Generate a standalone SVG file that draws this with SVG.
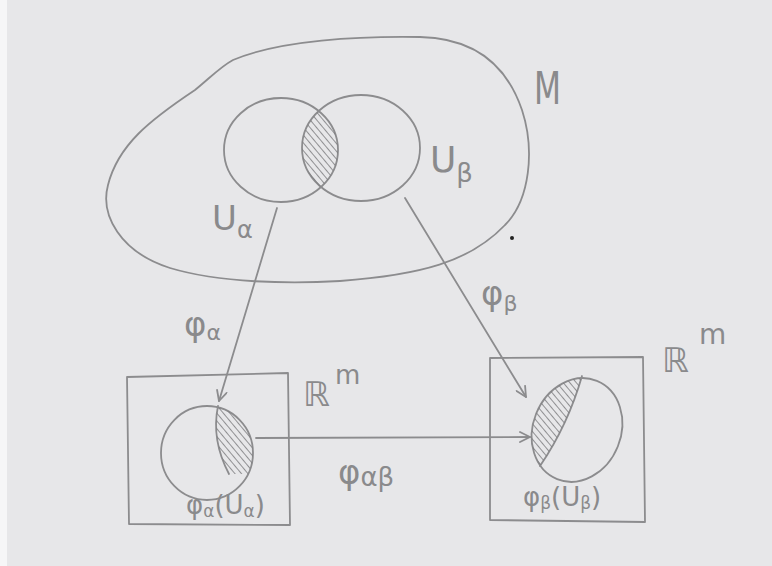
<svg xmlns="http://www.w3.org/2000/svg" width="772" height="566" viewBox="0 0 772 566">
  <style>
    .ink { fill: none; stroke: #8c8c8e; stroke-width: 1.8; stroke-linecap: round; stroke-linejoin: round; }
    .hatch { stroke: #7a7a7c; stroke-width: 1.6; }
    .lbl { font-family: "DejaVu Sans", "Liberation Sans", sans-serif; fill: #8a8a8c; font-weight: normal; }
  </style>
  <defs>
    <marker id="vhead" viewBox="0 0 12 12" refX="11" refY="6" markerWidth="12" markerHeight="12" markerUnits="userSpaceOnUse" orient="auto">
      <path d="M1,1 L11,6 L1,11" fill="none" stroke="#8c8c8e" stroke-width="1.8" stroke-linecap="round" stroke-linejoin="round"/>
    </marker>
    <pattern id="lines" width="5" height="5" patternUnits="userSpaceOnUse" patternTransform="rotate(-40)">
      <line x1="0" y1="0" x2="0" y2="5" class="hatch"/>
    </pattern>
    <clipPath id="clipUa"><ellipse cx="281" cy="150" rx="57" ry="52"/></clipPath>
    <clipPath id="clipUb"><ellipse cx="361" cy="148" rx="59" ry="53"/></clipPath>
    <clipPath id="clipLeftImg"><ellipse cx="207" cy="453" rx="46" ry="47"/></clipPath>
    <clipPath id="clipLeftSide"><path d="M218,406 Q211,440 229,474 L272,474 L272,400 Z"/></clipPath>
    <clipPath id="clipRightImg"><ellipse cx="577" cy="430" rx="44" ry="53" transform="rotate(22 577 430)"/></clipPath>
    <clipPath id="clipRightSide"><path d="M582,376 Q568,425 540,466 L515,466 L515,372 Z"/></clipPath>
  </defs>

  <!-- paper -->
  <rect x="0" y="0" width="772" height="566" fill="#e7e7e9"/>
  <rect x="0" y="0" width="7" height="566" fill="#f6f6f7"/>

  <!-- manifold M with the two chart domains -->
  <g id="manifold">
    <path class="ink" d="M233,60 C280,40 360,36 420,37 C470,38 505,60 522,110 C535,150 530,200 505,225 C470,262 420,275 340,281 C290,284 220,283 170,268 C120,252 100,215 108,185 C118,145 150,120 195,90 C210,78 220,67 233,60 Z"/>
    <text class="lbl" x="534" y="104" font-size="44" textLength="27" lengthAdjust="spacingAndGlyphs">M</text>
    <circle cx="512" cy="238" r="2" fill="#222"/>
  </g>

  <g id="U-alpha">
    <ellipse class="ink" cx="281" cy="150" rx="57" ry="52"/>
    <text class="lbl" x="212" y="230" font-size="34">U<tspan font-size="24" dy="8">α</tspan></text>
  </g>

  <g id="U-beta">
    <ellipse class="ink" cx="361" cy="148" rx="59" ry="53"/>
    <text class="lbl" x="430" y="172" font-size="36">U<tspan font-size="26" dy="10">β</tspan></text>
  </g>

  <!-- overlap U_alpha ∩ U_beta -->
  <g id="overlap" clip-path="url(#clipUa)">
    <g clip-path="url(#clipUb)">
      <rect x="295" y="90" width="50" height="120" fill="url(#lines)"/>
    </g>
  </g>

  <!-- chart image of U_alpha -->
  <g id="chart-alpha">
    <path class="ink" d="M127,377 L288,373 L290,525 L129,524 Z"/>
    <ellipse class="ink" cx="207" cy="453" rx="46" ry="47"/>
    <path class="ink" d="M218,406 Q211,440 229,474"/>
    <g clip-path="url(#clipLeftImg)">
      <g clip-path="url(#clipLeftSide)">
        <rect x="205" y="400" width="60" height="80" fill="url(#lines)"/>
      </g>
    </g>
    <text class="lbl" x="303" y="406" font-size="34">ℝ<tspan font-size="26" dx="5" dy="-22">m</tspan></text>
    <text class="lbl" x="186" y="514" font-size="26">φ<tspan font-size="17" dy="3">α</tspan><tspan dy="-3">(U</tspan><tspan font-size="17" dy="3">α</tspan><tspan dy="-3">)</tspan></text>
  </g>

  <!-- chart image of U_beta -->
  <g id="chart-beta">
    <path class="ink" d="M490,358 L643,357 L645,522 L490,520 Z"/>
    <ellipse class="ink" cx="577" cy="430" rx="44" ry="53" transform="rotate(22 577 430)"/>
    <path class="ink" d="M582,376 Q568,425 540,466"/>
    <g clip-path="url(#clipRightImg)">
      <g clip-path="url(#clipRightSide)">
        <rect x="520" y="370" width="65" height="100" fill="url(#lines)"/>
      </g>
    </g>
    <text class="lbl" x="662" y="372" font-size="34">ℝ<tspan font-size="28" dx="10" dy="-28">m</tspan></text>
    <text class="lbl" x="523" y="506" font-size="26">φ<tspan font-size="17" dy="3">β</tspan><tspan dy="-3">(U</tspan><tspan font-size="17" dy="3">β</tspan><tspan dy="-3">)</tspan></text>
  </g>

  <!-- chart maps and transition map -->
  <g id="connectors">
    <path class="ink" d="M277,208 L219,401" marker-end="url(#vhead)"/>
    <path class="ink" d="M405,198 L526,397" marker-end="url(#vhead)"/>
    <path class="ink" d="M256,438 L530,437" marker-end="url(#vhead)"/>
    <text class="lbl" x="184" y="336" font-size="34">φ<tspan font-size="22" dy="4">α</tspan></text>
    <text class="lbl" x="481" y="305" font-size="34">φ<tspan font-size="22" dy="6">β</tspan></text>
    <text class="lbl" x="338" y="484" font-size="34">φ<tspan font-size="26" dy="2">αβ</tspan></text>
  </g>
</svg>
